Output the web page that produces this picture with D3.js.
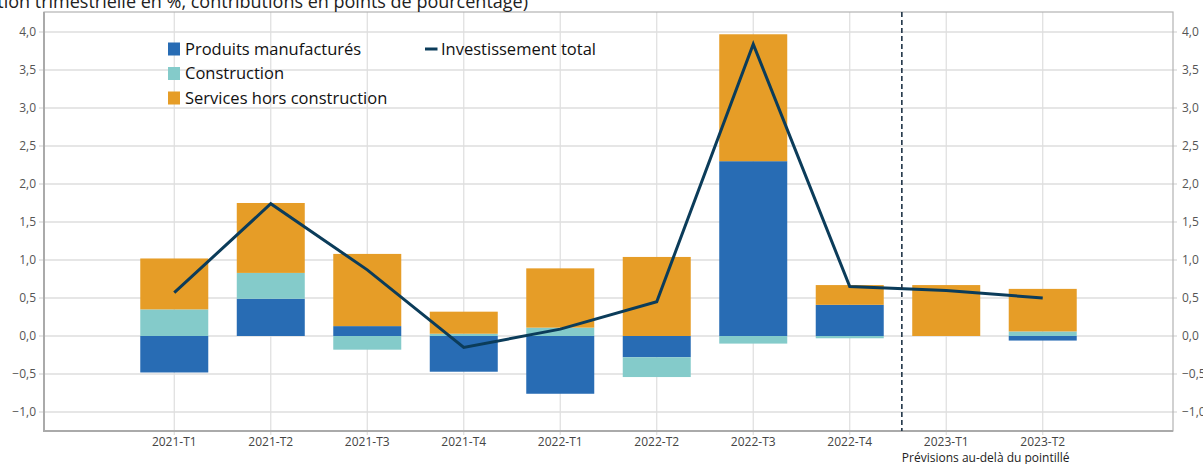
<!DOCTYPE html>
<html>
<head>
<meta charset="utf-8">
<script src="https://cdn.jsdelivr.net/npm/d3@7"></script>
<style>
  body { margin: 0; background: #fff; }
  svg { display: block; font-family: "Open Sans", sans-serif; }
</style>
</head>
<body>
<svg></svg>
<script>
const width = 1203;
const height = 464;

const quarters = ['2021-T1', '2021-T2', '2021-T3', '2021-T4', '2022-T1', '2022-T2', '2022-T3', '2022-T4', '2023-T1', '2023-T2'];
const manufactures = [-0.48, 0.49, 0.13, -0.47, -0.76, -0.28, 2.30, 0.41, 0.00, -0.06];
const construction = [0.35, 0.34, -0.18, 0.03, 0.11, -0.26, -0.10, -0.03, 0.00, 0.06];
const services = [0.67, 0.92, 0.95, 0.29, 0.78, 1.04, 1.67, 0.26, 0.67, 0.56];
const investissement = [0.57, 1.74, 0.87, -0.15, 0.09, 0.45, 3.84, 0.65, 0.60, 0.50];
const yTicks = [-1, -0.5, 0, 0.5, 1, 1.5, 2, 2.5, 3, 3.5, 4];

const seriesNames = ['Produits manufacturés', 'Construction', 'Services hors construction'];
const seriesValues = [manufactures, construction, services];
const colors = ['#286cb4', '#84cbca', '#e69d27'];
const lineColor = '#0b3c5a';

const plotLeft = 44, plotRight = 1173, plotTop = 12, plotBottom = 431;

const svg = d3.select('svg')
    .attr('width', width)
    .attr('height', height);

const xScale = d3.scalePoint()
    .domain(quarters)
    .range([plotLeft, plotRight])
    .padding(1.35);
const yScale = d3.scaleLinear()
    .domain([-1.25, 4.263])
    .range([plotBottom, plotTop]);

const fr = d3.formatLocale({decimal: ',', thousands: ' ', grouping: [3], currency: ['', '€'], minus: '\u2212'});
const fmt = fr.format('.1f');

// grid
svg.append('g')
  .selectAll('line')
  .data(yTicks)
  .enter()
  .append('line')
    .attr('x1', plotLeft - 5)
    .attr('x2', plotRight + 4)
    .attr('y1', d => yScale(d))
    .attr('y2', d => yScale(d))
    .attr('stroke', '#dedede')
    .attr('stroke-width', 1.5);

svg.append('g')
  .selectAll('line')
  .data(quarters)
  .enter()
  .append('line')
    .attr('x1', d => xScale(d))
    .attr('x2', d => xScale(d))
    .attr('y1', plotTop)
    .attr('y2', plotBottom + 4)
    .attr('stroke', '#dedede')
    .attr('stroke-width', 1.2);

// frame
svg.append('rect')
  .attr('x', plotLeft)
  .attr('y', plotTop)
  .attr('width', plotRight - plotLeft)
  .attr('height', plotBottom - plotTop)
  .attr('fill', 'none')
  .attr('stroke', '#b3b3b3')
  .attr('stroke-width', 1.2);
svg.append('path')
  .attr('d', `M${plotLeft},${plotTop}V${plotBottom}H${plotRight}`)
  .attr('fill', 'none')
  .attr('stroke', '#aaaaaa')
  .attr('stroke-width', 2);

// y labels both sides
svg.append('g')
  .selectAll('text')
  .data(yTicks)
  .enter()
  .append('text')
    .attr('x', plotLeft - 8)
    .attr('y', d => yScale(d))
    .attr('dy', '0.35em')
    .attr('text-anchor', 'end')
    .attr('fill', '#555')
    .style('font-size', '12px')
    .text(d => fmt(d));

svg.append('g')
  .selectAll('text')
  .data(yTicks)
  .enter()
  .append('text')
    .attr('x', plotRight + 9)
    .attr('y', d => yScale(d))
    .attr('dy', '0.35em')
    .attr('text-anchor', 'start')
    .attr('fill', '#555')
    .style('font-size', '12px')
    .text(d => fmt(d));

// x labels
svg.append('g')
  .selectAll('text')
  .data(quarters)
  .enter()
  .append('text')
    .attr('x', d => xScale(d))
    .attr('y', plotBottom + 15)
    .attr('text-anchor', 'middle')
    .attr('fill', '#444')
    .style('font-size', '12px')
    .text(d => d);

// stacked bars (positives up, negatives down)
const barWidth = 68;
const bars = [];
quarters.forEach((q, i) => {
  let pos = 0, neg = 0;
  seriesValues.forEach((vals, s) => {
    const v = vals[i];
    if (v === 0) return;
    let y0, y1;
    if (v > 0) { y0 = pos; y1 = pos + v; pos = y1; }
    else { y0 = neg; y1 = neg + v; neg = y1; }
    bars.push({q: q, s: s, y0: y0, y1: y1});
  });
});

svg.append('g')
  .selectAll('rect')
  .data(bars)
  .enter()
  .append('rect')
    .attr('x', d => xScale(d.q) - barWidth / 2)
    .attr('width', barWidth)
    .attr('y', d => yScale(Math.max(d.y0, d.y1)))
    .attr('height', d => Math.abs(yScale(d.y0) - yScale(d.y1)))
    .attr('fill', d => colors[d.s]);

// total investment line
const line = d3.line()
    .x((d, i) => xScale(quarters[i]))
    .y(d => yScale(d));

svg.append('path')
  .datum(investissement)
  .attr('d', line)
  .attr('fill', 'none')
  .attr('stroke', lineColor)
  .attr('stroke-width', 3);

// forecast separator
const step = xScale.step();
const sepX = xScale('2022-T4') + step * 0.54;
svg.append('line')
  .attr('x1', sepX)
  .attr('x2', sepX)
  .attr('y1', plotTop)
  .attr('y2', plotBottom)
  .attr('stroke', '#1f3447')
  .attr('stroke-width', 1.6)
  .attr('stroke-dasharray', '5,3');

svg.append('text')
  .attr('x', sepX)
  .attr('y', plotBottom + 31)
  .attr('fill', '#222')
  .style('font-size', '12px')
  .text('Prévisions au-delà du pointillé');

// legend
const legend = svg.append('g');
seriesNames.forEach((name, i) => {
  const ly = 49 + i * 24.5;
  legend.append('rect')
    .attr('x', 168)
    .attr('y', ly - 6.5)
    .attr('width', 12)
    .attr('height', 13)
    .attr('fill', colors[i]);
  legend.append('text')
    .attr('x', 185)
    .attr('y', ly)
    .attr('dy', '0.35em')
    .attr('fill', '#111')
    .style('font-size', '16.5px')
    .text(name);
});
legend.append('line')
  .attr('x1', 425)
  .attr('x2', 437.5)
  .attr('y1', 49)
  .attr('y2', 49)
  .attr('stroke', lineColor)
  .attr('stroke-width', 3);
legend.append('text')
  .attr('x', 441)
  .attr('y', 49)
  .attr('dy', '0.35em')
  .attr('fill', '#111')
  .style('font-size', '16.5px')
  .text('Investissement total');

// title (cut by the top edge)
svg.append('text')
  .attr('x', 528)
  .attr('y', 8)
  .attr('text-anchor', 'end')
  .attr('fill', '#222')
  .style('font-size', '18px')
  .text('(variation trimestrielle en %, contributions en points de pourcentage)');
</script>
</body>
</html>
